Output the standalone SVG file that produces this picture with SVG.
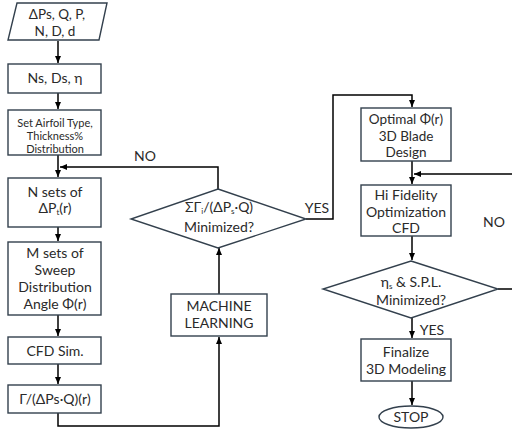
<svg xmlns="http://www.w3.org/2000/svg" width="512" height="431" viewBox="0 0 512 431">
<defs>
<marker id="ah" markerWidth="8" markerHeight="8" refX="7" refY="4" orient="auto" markerUnits="userSpaceOnUse">
<path d="M0,1 L7,4 L0,7 Z" fill="#000"/>
</marker>
</defs>
<style>
.s{fill:#fff;stroke:#33404d;stroke-width:1.4}
.t{font-family:Lato,"Noto Sans CJK KR",sans-serif;font-size:14px;fill:#2a2a2a;text-anchor:middle}
.sm{font-size:11px}
.md{font-size:13.5px}
.c{fill:none;stroke:#000;stroke-width:1.5}
.sub{font-size:8px}
</style>
<rect width="512" height="431" fill="#fff"/>
<g id="connectors">
<path class="c" d="M58,41 V63" marker-end="url(#ah)"/>
<path class="c" d="M58,93 V109" marker-end="url(#ah)"/>
<path class="c" d="M58,155 V177" marker-end="url(#ah)"/>
<path class="c" d="M58,227 V241" marker-end="url(#ah)"/>
<path class="c" d="M58,315 V336" marker-end="url(#ah)"/>
<path class="c" d="M58,364 V384" marker-end="url(#ah)"/>
<path class="c" d="M58,413 V426 H219 V337" marker-end="url(#ah)"/>
<path class="c" d="M219,294 V248" marker-end="url(#ah)"/>
<path class="c" d="M218,189 V167 H60" marker-end="url(#ah)"/>
<path class="c" d="M306,219 H333 V95 H412 V107" marker-end="url(#ah)"/>
<path class="c" d="M412,161 V184" marker-end="url(#ah)"/>
<path class="c" d="M412,236 V260" marker-end="url(#ah)"/>
<path class="c" d="M498,289 H520 V174 H414" marker-end="url(#ah)"/>
<path class="c" d="M412,318 V338" marker-end="url(#ah)"/>
<path class="c" d="M412,381 V405" marker-end="url(#ah)"/>
</g>
<g id="labels">
<text class="t" x="145" y="161">NO</text>
<text class="t" x="317" y="213">YES</text>
<text class="t" x="494" y="227">NO</text>
<text class="t" x="432" y="335">YES</text>
</g>
<g id="input">
<path class="s" d="M17,3 H107 L99,40 H8 Z"/>
<text class="t md" x="57" y="19">ΔPs, Q, P,</text>
<text class="t md" x="55" y="36">N, D, d</text>
</g>
<g id="ns">
<rect class="s" x="8" y="64" width="93" height="29"/>
<text class="t" x="55" y="83">Ns, Ds, η</text>
</g>
<g id="airfoil">
<rect class="s" x="8" y="110" width="93" height="45"/>
<text class="t sm" x="55" y="127">Set Airfoil Type,</text>
<text class="t sm" x="55" y="140">Thickness%</text>
<text class="t sm" x="55" y="153">Distribution</text>
</g>
<g id="nsets">
<rect class="s" x="8" y="178" width="93" height="49"/>
<text class="t" x="55" y="197">N sets of</text>
<text class="t" x="55" y="213">ΔP<tspan class="sub" dy="2">t</tspan><tspan dy="-2">(r)</tspan></text>
</g>
<g id="msets">
<rect class="s" x="8" y="242" width="93" height="73"/>
<text class="t" x="55" y="258">M sets of</text>
<text class="t" x="55" y="275">Sweep</text>
<text class="t" x="55" y="292">Distribution</text>
<text class="t" x="55" y="309">Angle Φ(r)</text>
</g>
<g id="cfd">
<rect class="s" x="8" y="337" width="93" height="27"/>
<text class="t" x="55" y="356">CFD Sim.</text>
</g>
<g id="gamma">
<rect class="s" x="8" y="385" width="93" height="28"/>
<text class="t" x="55" y="404">Γ/(ΔPs·Q)(r)</text>
</g>
<g id="ml">
<rect class="s" x="171" y="294" width="96" height="42"/>
<text class="t" x="219" y="311">MACHINE</text>
<text class="t" x="219" y="328">LEARNING</text>
</g>
<g id="decision1">
<path class="s" d="M218,189 L306,219 L218,248 L131,219 Z"/>
<text class="t" x="219" y="212">ΣΓ<tspan class="sub" dy="2">i</tspan><tspan dy="-2">/(ΔP</tspan><tspan class="sub" dy="2">s</tspan><tspan dy="-2">·Q)</tspan></text>
<text class="t" x="219" y="232">Minimized?</text>
</g>
<g id="optimal">
<rect class="s" x="361" y="108" width="90" height="53"/>
<text class="t md" x="406" y="124">Optimal Φ(r)</text>
<text class="t md" x="406" y="141">3D Blade</text>
<text class="t md" x="406" y="157">Design</text>
</g>
<g id="hifi">
<rect class="s" x="361" y="185" width="90" height="51"/>
<text class="t" x="406" y="200">Hi Fidelity</text>
<text class="t" x="406" y="217">Optimization</text>
<text class="t" x="406" y="233">CFD</text>
</g>
<g id="decision2">
<path class="s" d="M411,261 L498,289 L411,318 L323,289 Z"/>
<text class="t" x="411" y="287">η<tspan class="sub" dy="2">s</tspan><tspan dy="-2"> &amp; S.P.L.</tspan></text>
<text class="t" x="411" y="305">Minimized?</text>
</g>
<g id="finalize">
<rect class="s" x="361" y="339" width="90" height="42"/>
<text class="t" x="406" y="357">Finalize</text>
<text class="t" x="406" y="374">3D Modeling</text>
</g>
<g id="stop">
<ellipse class="s" cx="411" cy="417" rx="32" ry="11"/>
<text class="t" x="411" y="422">STOP</text>
</g>
</svg>
